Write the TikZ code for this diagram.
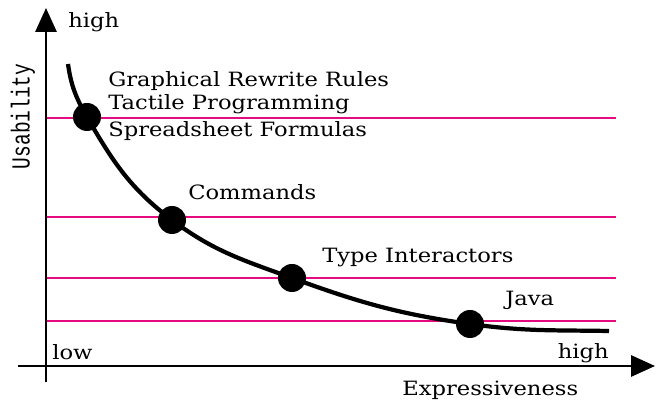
\documentclass[tikz,border=0pt]{standalone}
\usepackage{fontspec}
\setmainfont[FakeStretch=1.15]{DejaVu Serif}
\newfontfamily\axisfont[FakeStretch=0.75]{Liberation Mono}
\usetikzlibrary{arrows.meta}
\definecolor{magline}{RGB}{230,10,128}

\begin{document}
\begin{tikzpicture}[font=\fontsize{14}{16}\selectfont,
    axis/.style={line width=1.8pt, -{Triangle[length=17pt,width=15pt]}},
    level/.style={magline, line width=1.6pt},
    curve/.style={line width=3pt},
    dot/.style={circle, fill=black, minimum size=0.7cm, inner sep=0pt},
    lbl/.style={anchor=base west, inner sep=0pt}]
      \useasboundingbox (0,0) rectangle (16.55,10);
      \coordinate (xfrom) at (0.45,0.85);
      \coordinate (xto) at (16.375,0.85);
      \coordinate (yfrom) at (1.15,0.45);
      \coordinate (yto) at (1.15,9.8);
      \foreach \y in {7.05,4.575,3.05,1.975}
        \draw [level] (1.15,\y) -- (15.4,\y);
      \draw [axis] (xfrom) -- (xto);
      \draw [axis] (yfrom) -- (yto);
      \node (d1) [dot] at (2.175,7.075) {};
      \node (d2) [dot] at (4.3,4.5) {};
      \node (d3) [dot] at (7.3,3.05) {};
      \node (d4) [dot] at (11.75,1.9) {};
      \coordinate (cstart) at (1.7,8.4);
      \coordinate (cend) at (15.225,1.725);
      \draw [curve] (cstart) to [out=-82,in=120] (d1.center) to [out=-60,in=143] (d2.center) to [out=-37,in=160] (d3.center) to [out=-20,in=172] (d4.center) to [out=-8,in=179] (cend);
      \node (grr) [lbl] at (2.7,7.825) {Graphical Rewrite Rules};
      \node (tp) [lbl] at (2.7,7.25) {Tactile Programming};
      \node (sf) [lbl] at (2.7,6.575) {Spreadsheet Formulas};
      \node (cmd) [lbl] at (4.7,5.0) {Commands};
      \node (ti) [lbl] at (8.05,3.425) {Type Interactors};
      \node (java) [lbl] at (12.625,2.35) {Java};
      \node (ylow) [lbl] at (1.3,1.0) {low};
      \node (xhigh) [anchor=base east, inner sep=0pt] at (15.225,1.025) {high};
      \node (yhigh) [lbl] at (1.7,9.3) {high};
      \node (xlab) [lbl] at (10.05,0.1) {Expressiveness};
      \node (ylab) [rotate=90, font=\axisfont\fontsize{18.5}{20}\selectfont] at (0.575,7.09) {Usability};
    \end{tikzpicture}
\end{document}
